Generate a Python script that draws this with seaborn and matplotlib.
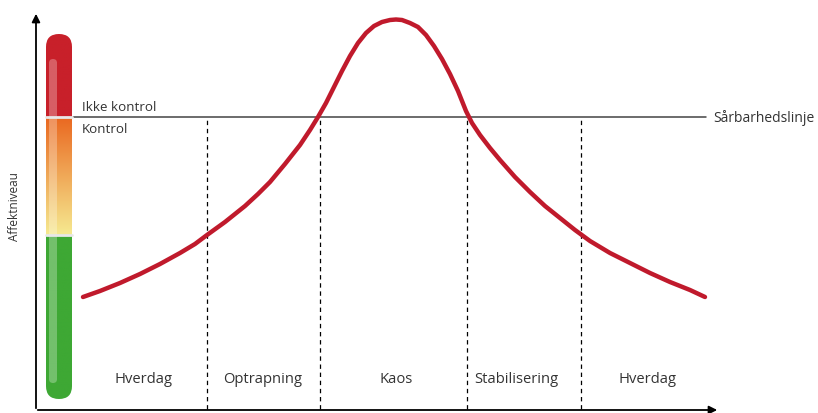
import numpy as np
import pandas as pd
import matplotlib
matplotlib.use("Agg")
import matplotlib.pyplot as plt
import seaborn as sns
from matplotlib.patches import FancyBboxPatch

# kurve (x, affektniveau = 414 - pixel y)
tid = [83, 100, 120, 140, 160, 180, 195, 207, 225, 245, 258, 270, 285, 300, 310, 318, 326,
       334, 342, 350, 358, 366, 374, 382, 390, 396, 402, 410, 418, 426, 434, 442, 450,
       458, 466, 472, 480, 490, 500, 515, 530, 545, 560, 575, 590, 610, 630, 650, 670, 690, 705]
affekt = [116, 122, 130, 139, 149, 160, 169, 178, 191, 207, 219, 231, 249, 268, 283, 296, 310,
          326, 342, 357, 370, 380, 387, 391, 393, 393.5, 393, 390, 386, 378, 367, 354, 339,
          322, 302, 290, 278, 265, 253, 236, 221, 207, 195, 183, 172, 160, 150, 140, 131, 123, 116]

faser = ['Hverdag', 'Optrapning', 'Kaos', 'Stabilisering', 'Hverdag']
fase_midt = [143, 263, 396, 516, 647]
fase_graenser = [207, 320, 467, 581]
saarbarhed = 296
gul_graense = 178

sns.set_theme(style="white")
plt.rcParams['font.family'] = ['Open Sans', 'DejaVu Sans']

fig = plt.figure(figsize=(8.18, 4.14), dpi=100)
ax = fig.add_axes([0, 0, 1, 1])

# farvebar
bx0, bx1, by0, by1 = 46, 72, 14, 379
r = (bx1 - bx0) / 2
h = 400
img = np.ones((h, 1, 3))
lv = np.linspace(by1, by0, h)
red = np.array([200, 32, 42]) / 255
orange = np.array([234, 104, 32]) / 255
yellow = np.array([246, 234, 145]) / 255
green = np.array([62, 168, 52]) / 255
for i, v in enumerate(lv):
    if v > saarbarhed:
        img[i, 0] = red
    elif v > gul_graense:
        t = (saarbarhed - v) / (saarbarhed - gul_graense)
        img[i, 0] = orange * (1 - t) + yellow * t
    else:
        img[i, 0] = green
clip = FancyBboxPatch((bx0 + r - 0.01, by0 + r), 0.02, (by1 - by0) - 2 * r,
                      boxstyle="round,pad=%f,rounding_size=%f" % (r, r),
                      transform=ax.transData, facecolor='none', edgecolor='none')
ax.add_patch(clip)
im = ax.imshow(img, extent=(bx0, bx1, by0, by1), aspect='auto', zorder=2)
im.set_clip_path(clip)
hl = FancyBboxPatch((53, 34), 0.02, 316, boxstyle="round,pad=4",
                    facecolor='white', edgecolor='none', alpha=0.28, zorder=3)
ax.add_patch(hl)
for yy in [saarbarhed, gul_graense]:
    ax.plot([bx0, bx1], [yy, yy], color='#e8e8e8', lw=2, zorder=4)

# akser med pile
ax.annotate('', xy=(36, 402), xytext=(36, 2),
            arrowprops=dict(arrowstyle='-|>', color='black', lw=1.3, mutation_scale=12))
ax.annotate('', xy=(720, 3), xytext=(35, 3),
            arrowprops=dict(arrowstyle='-|>', color='black', lw=1.3, mutation_scale=12))
ax.text(15, 207, 'Affektniveau', rotation=90, ha='center', va='center',
        fontsize=8.5, color='#333333')

# sårbarhedslinje
ax.plot([73, 706], [saarbarhed, saarbarhed], color='#444444', lw=1.1, zorder=3)
ax.text(713, saarbarhed, 'Sårbarhedslinje', ha='left', va='center', fontsize=10, color='#333333')
ax.text(82, saarbarhed + 4, 'Ikke kontrol', ha='left', va='bottom', fontsize=9.6, color='#333333')
ax.text(82, saarbarhed - 5, 'Kontrol', ha='left', va='top', fontsize=9.6, color='#333333')

for gx in fase_graenser:
    ax.plot([gx, gx], [4, saarbarhed], color='black', lw=0.9,
            linestyle=(0, (3.5, 3)), zorder=2)

for navn, mx in zip(faser, fase_midt):
    ax.text(mx, 34, navn, ha='center', va='center', fontsize=10.6, color='#333333')

df = pd.DataFrame({'tid': tid, 'affekt': affekt})
sns.lineplot(data=df, x='tid', y='affekt', ax=ax, color='#c01a2c', lw=3.2,
             sort=False, zorder=5)
ax.set_xlim(0, 818)
ax.set_ylim(0, 414)
ax.axis('off')

fig.savefig('out.png', dpi=100)
